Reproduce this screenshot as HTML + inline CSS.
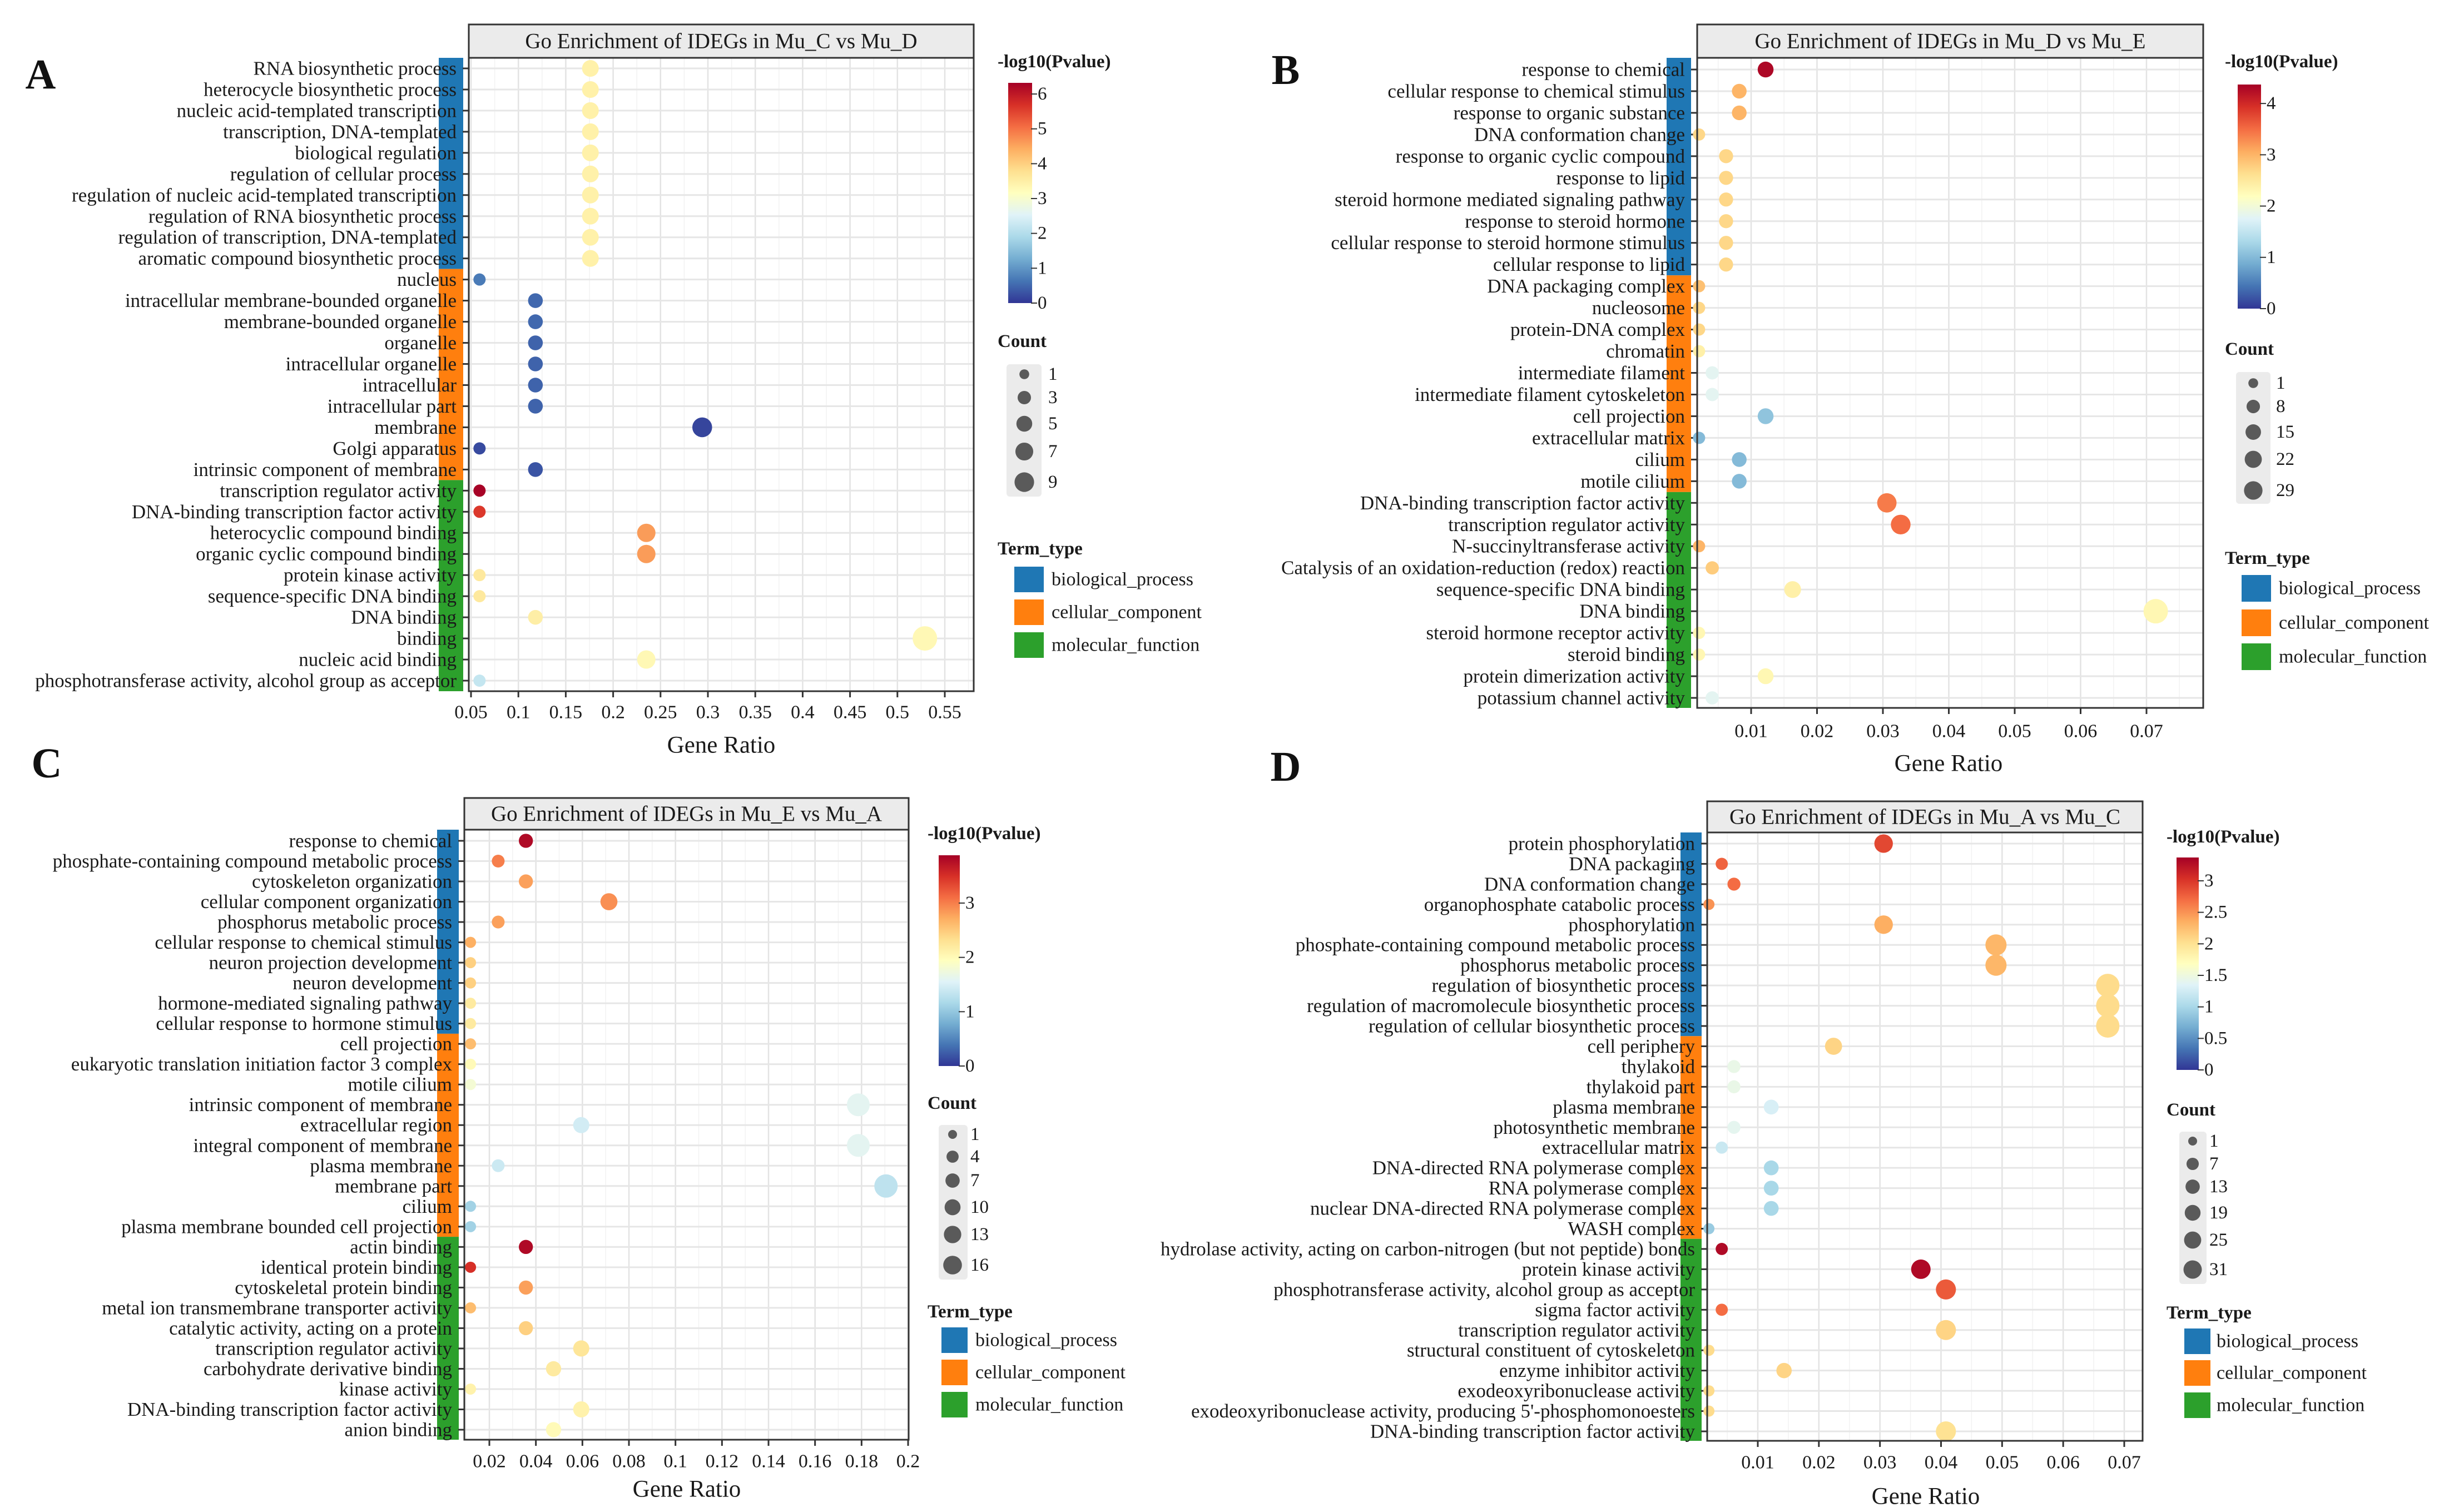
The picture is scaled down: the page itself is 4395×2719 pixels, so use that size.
<!DOCTYPE html>
<html><head><meta charset="utf-8"><style>
html,body{margin:0;padding:0;background:#fff;}
svg{display:block;font-family:"Liberation Serif","Times New Roman",serif;}
</style></head><body>
<svg id="fig" xmlns="http://www.w3.org/2000/svg" width="4395" height="2719" viewBox="0 0 4395 2719" font-family="Liberation Serif, serif">
<defs>
<linearGradient id="rdylbu" x1="0" y1="1" x2="0" y2="0">
<stop offset="0" stop-color="#313695"/><stop offset="0.1" stop-color="#4575b4"/><stop offset="0.2" stop-color="#74add1"/><stop offset="0.3" stop-color="#abd9e9"/><stop offset="0.4" stop-color="#e0f3f8"/><stop offset="0.5" stop-color="#ffffbf"/><stop offset="0.6" stop-color="#fee090"/><stop offset="0.7" stop-color="#fdae61"/><stop offset="0.8" stop-color="#f46d43"/><stop offset="0.9" stop-color="#d73027"/><stop offset="1" stop-color="#a50026"/>
</linearGradient>
<clipPath id="clipA"><rect x="0" y="0" width="2165" height="2719"/></clipPath>
</defs>
</svg>
<script>
// ---------- Panel A data ----------
const termsA = ["RNA biosynthetic process","heterocycle biosynthetic process","nucleic acid-templated transcription","transcription, DNA-templated","biological regulation","regulation of cellular process","regulation of nucleic acid-templated transcription","regulation of RNA biosynthetic process","regulation of transcription, DNA-templated","aromatic compound biosynthetic process","nucleus","intracellular membrane-bounded organelle","membrane-bounded organelle","organelle","intracellular organelle","intracellular","intracellular part","membrane","Golgi apparatus","intrinsic component of membrane","transcription regulator activity","DNA-binding transcription factor activity","heterocyclic compound binding","organic cyclic compound binding","protein kinase activity","sequence-specific DNA binding","DNA binding","binding","nucleic acid binding","phosphotransferase activity, alcohol group as acceptor"];
const ratioA = [0.176,0.176,0.176,0.176,0.176,0.176,0.176,0.176,0.176,0.176,0.059,0.118,0.118,0.118,0.118,0.118,0.118,0.294,0.059,0.118,0.059,0.059,0.235,0.235,0.059,0.059,0.118,0.529,0.235,0.059];
const countA = [3,3,3,3,3,3,3,3,3,3,1,2,2,2,2,2,2,5,1,2,1,1,4,4,1,1,2,9,4,1];
const pvalA = [3.45,3.45,3.45,3.45,3.45,3.45,3.45,3.45,3.45,3.45,0.7,0.5,0.5,0.45,0.45,0.45,0.45,0.15,0.2,0.3,6.3,5.6,4.6,4.6,3.6,3.6,3.5,3.3,3.3,2.2];
const typeA = [10,10,10];
const xTicksA = [0.05,0.1,0.15,0.2,0.25,0.3,0.35,0.4,0.45,0.5,0.55];
const xTickLabelsA = ["0.05","0.1","0.15","0.2","0.25","0.3","0.35","0.4","0.45","0.5","0.55"];
const cbTicksA = [0,1,2,3,4,5,6];
const sizeLegendA = [1,3,5,7,9];

// ---------- Panel B data ----------
const termsB = ["response to chemical","cellular response to chemical stimulus","response to organic substance","DNA conformation change","response to organic cyclic compound","response to lipid","steroid hormone mediated signaling pathway","response to steroid hormone","cellular response to steroid hormone stimulus","cellular response to lipid","DNA packaging complex","nucleosome","protein-DNA complex","chromatin","intermediate filament","intermediate filament cytoskeleton","cell projection","extracellular matrix","cilium","motile cilium","DNA-binding transcription factor activity","transcription regulator activity","N-succinyltransferase activity","Catalysis of an oxidation-reduction (redox) reaction","sequence-specific DNA binding","DNA binding","steroid hormone receptor activity","steroid binding","protein dimerization activity","potassium channel activity"];
const ratioB = [0.0122,0.0082,0.0082,0.0021,0.0062,0.0062,0.0062,0.0062,0.0062,0.0062,0.0021,0.0021,0.0021,0.0021,0.0041,0.0041,0.0122,0.0021,0.0082,0.0082,0.0306,0.0327,0.0021,0.0041,0.0163,0.0714,0.0021,0.0021,0.0122,0.0041];
const countB = [6,4,4,1,3,3,3,3,3,3,1,1,1,1,2,2,6,1,4,4,15,16,1,2,8,35,1,1,6,2];
const pvalB = [4.3,3.0,3.0,2.7,2.7,2.7,2.7,2.7,2.7,2.7,2.9,2.7,2.7,2.4,1.8,1.8,1.1,1.0,1.0,1.0,3.4,3.5,3.0,2.8,2.4,2.3,2.3,2.3,2.3,1.8];
const typeB = [10,10,10];
const xTicksB = [0.01,0.02,0.03,0.04,0.05,0.06,0.07];
const xTickLabelsB = ["0.01","0.02","0.03","0.04","0.05","0.06","0.07"];
const cbTicksB = [0,1,2,3,4];
const sizeLegendB = [1,8,15,22,29];

// ---------- Panel C data ----------
const termsC = ["response to chemical","phosphate-containing compound metabolic process","cytoskeleton organization","cellular component organization","phosphorus metabolic process","cellular response to chemical stimulus","neuron projection development","neuron development","hormone-mediated signaling pathway","cellular response to hormone stimulus","cell projection","eukaryotic translation initiation factor 3 complex","motile cilium","intrinsic component of membrane","extracellular region","integral component of membrane","plasma membrane","membrane part","cilium","plasma membrane bounded cell projection","actin binding","identical protein binding","cytoskeletal protein binding","metal ion transmembrane transporter activity","catalytic activity, acting on a protein","transcription regulator activity","carbohydrate derivative binding","kinase activity","DNA-binding transcription factor activity","anion binding"];
const ratioC = [0.0357,0.0238,0.0357,0.0714,0.0238,0.0119,0.0119,0.0119,0.0119,0.0119,0.0119,0.0119,0.0119,0.1786,0.0595,0.1786,0.0238,0.1905,0.0119,0.0119,0.0357,0.0119,0.0357,0.0119,0.0357,0.0595,0.0476,0.0119,0.0595,0.0476];
const countC = [3,2,3,6,2,1,1,1,1,1,1,1,1,15,5,15,2,16,1,1,3,1,3,1,3,5,4,1,5,4];
const pvalC = [3.8,3.0,2.8,2.9,2.8,2.7,2.45,2.45,2.2,2.2,2.6,2.0,1.8,1.6,1.45,1.6,1.4,1.3,1.1,1.1,3.8,3.5,2.8,2.6,2.45,2.25,2.2,2.1,2.1,2.0];
const typeC = [10,10,10];
const xTicksC = [0.02,0.04,0.06,0.08,0.1,0.12,0.14,0.16,0.18,0.2];
const xTickLabelsC = ["0.02","0.04","0.06","0.08","0.1","0.12","0.14","0.16","0.18","0.2"];
const cbTicksC = [0,1,2,3];
const sizeLegendC = [1,4,7,10,13,16];

// ---------- Panel D data ----------
const termsD = ["protein phosphorylation","DNA packaging","DNA conformation change","organophosphate catabolic process","phosphorylation","phosphate-containing compound metabolic process","phosphorus metabolic process","regulation of biosynthetic process","regulation of macromolecule biosynthetic process","regulation of cellular biosynthetic process","cell periphery","thylakoid","thylakoid part","plasma membrane","photosynthetic membrane","extracellular matrix","DNA-directed RNA polymerase complex","RNA polymerase complex","nuclear DNA-directed RNA polymerase complex","WASH complex","hydrolase activity, acting on carbon-nitrogen (but not peptide) bonds","protein kinase activity","phosphotransferase activity, alcohol group as acceptor","sigma factor activity","transcription regulator activity","structural constituent of cytoskeleton","enzyme inhibitor activity","exodeoxyribonuclease activity","exodeoxyribonuclease activity, producing 5'-phosphomonoesters","DNA-binding transcription factor activity"];
const ratioD = [0.0306,0.0041,0.0061,0.0020,0.0306,0.0490,0.0490,0.0673,0.0673,0.0673,0.0224,0.0061,0.0061,0.0122,0.0061,0.0041,0.0122,0.0122,0.0122,0.0020,0.0041,0.0367,0.0408,0.0041,0.0408,0.0020,0.0143,0.0020,0.0020,0.0408];
const countD = [15,2,3,1,15,24,24,33,33,33,11,3,3,6,3,2,6,6,6,1,2,18,20,2,20,1,7,1,1,20];
const pvalD = [2.9,2.75,2.7,2.5,2.35,2.3,2.3,2.05,2.05,2.05,2.1,1.45,1.45,1.3,1.4,1.2,1.0,1.0,1.0,0.9,3.3,3.3,2.8,2.7,2.1,2.05,2.1,2.05,2.05,2.0];
const typeD = [10,10,10];
const xTicksD = [0.01,0.02,0.03,0.04,0.05,0.06,0.07];
const xTickLabelsD = ["0.01","0.02","0.03","0.04","0.05","0.06","0.07"];
const cbTicksD = [0,0.5,1,1.5,2,2.5,3];
const sizeLegendD = [1,7,13,19,25,31];

const typeNames = ["biological_process","cellular_component","molecular_function"];
const typeColors = ["#1f77b4","#ff7f0e","#2ca02c"];

const NS = "http://www.w3.org/2000/svg";
const svg = document.getElementById("fig");
function mk(tag, attrs, parent, text){
  const e = document.createElementNS(NS, tag);
  for (const k in attrs) e.setAttribute(k, attrs[k]);
  if (text !== undefined) e.textContent = text;
  (parent || svg).appendChild(e);
  return e;
}
const stops = ["#313695","#4575b4","#74add1","#abd9e9","#e0f3f8","#ffffbf","#fee090","#fdae61","#f46d43","#d73027","#a50026"];
function hex(h){return [parseInt(h.substr(1,2),16),parseInt(h.substr(3,2),16),parseInt(h.substr(5,2),16)];}
function colorAt(t){
  t = Math.max(0, Math.min(1, t));
  const f = t*10, i = Math.min(9, Math.floor(f)), r = f - i;
  const a = hex(stops[i]), b = hex(stops[i+1]);
  return "rgb(" + a.map((v,k)=>Math.round(v+(b[k]-v)*r)).join(",") + ")";
}
const FONT = "Liberation Serif, Times New Roman, serif";

function panel(P){
  const g = mk("g", {"font-family":FONT}, svg);
  
  
  if (P.clip) g.setAttribute('clip-path', P.clip);
  const n = P.terms.length;
  const step = (P.rowN - P.row0)/(n-1);
  const yOf = i => P.row0 + i*step;
  const xOf = v => P.x1px + (v - P.x1val) * (P.x2px - P.x1px)/(P.x2val - P.x1val);
  const rOf = c => P.rmin + (P.rmax - P.rmin) * (Math.sqrt(c)-1)/(Math.sqrt(P.cmax)-1);
  const hdr = mk("rect", {x:P.left, y:P.hTop, width:P.right-P.left, height:P.top-P.hTop, fill:"#ebebeb", stroke:"#333", "stroke-width":3}, g);
  
  
  const ht = mk("text", {x:(P.left+P.right)/2, y:(P.hTop+P.top)/2, "text-anchor":"middle", "dominant-baseline":"central", "font-size":39, fill:"#1a1a1a"}, g, P.title);
  
  
  mk("rect", {x:P.left, y:P.top, width:P.right-P.left, height:P.bottom-P.top, fill:"#fff"}, g);
  for (let k=0;k<P.xTicks.length;k++){
    const t = P.xTicks[k];
    const x = xOf(t);
    const vl = mk("line", {x1:x, x2:x, y1:P.top, y2:P.bottom, stroke:"#e3e3e3", "stroke-width":2.5}, g);
    
    
    const dt = (P.xTicks[1]-P.xTicks[0])/2;
    [t - dt, t + dt].forEach(m=>{
      const xm = xOf(m);
      if (xm > P.left+2 && xm < P.right-2 && (k===0 || m > t))
        mk("line", {x1:xm, x2:xm, y1:P.top, y2:P.bottom, stroke:"#f2f2f2", "stroke-width":1.5}, g);
    });
  }
  for (let i=0;i<n;i++){
    const y = yOf(i);
    const hl = mk("line", {x1:P.left, x2:P.right, y1:y, y2:y, stroke:"#e6e6e6", "stroke-width":3}, g);
    
    
  }
  let start = 0;
  for (let k=0;k<3;k++){
    const cnt = P.types[k];
    const y1 = start===0 ? P.top : (yOf(start-1)+yOf(start))/2;
    const y2 = start+cnt>=n ? P.bottom : (yOf(start+cnt-1)+yOf(start+cnt))/2;
    const sr = mk("rect", {x:P.sx1, y:y1, width:P.sx2-P.sx1, height:y2-y1, fill:typeColors[k]}, g);
    
    
    start += cnt;
  }
  for (let i=0;i<n;i++){
    const y = yOf(i);
    mk("line", {x1:P.left-11, x2:P.left, y1:y, y2:y, stroke:"#333", "stroke-width":3}, g);
    const lt = mk("text", {x:P.left-22, y:y, "text-anchor":"end", "dominant-baseline":"central", "font-size":35, fill:"#1a1a1a"}, g, P.terms[i]);
    
    
  }
  for (let i=0;i<n;i++){
    const c = mk("circle", {cx:xOf(P.ratio[i]), cy:yOf(i), r:rOf(P.count[i]), fill:colorAt(P.pval[i]/P.pmax)}, g);
    
    
  }
  mk("rect", {x:P.left, y:P.top, width:P.right-P.left, height:P.bottom-P.top, fill:"none", stroke:"#333", "stroke-width":3}, g);
  for (let k=0;k<P.xTicks.length;k++){
    const x = xOf(P.xTicks[k]);
    mk("line", {x1:x, x2:x, y1:P.bottom, y2:P.bottom+11, stroke:"#333", "stroke-width":3}, g);
    const xt = mk("text", {x:x, y:P.tickY, "text-anchor":"middle", "dominant-baseline":"central", "font-size":34, fill:"#1a1a1a"}, g, P.xLabels[k]);
    
    
  }
  const at = mk("text", {x:P.axX, y:P.axY, "text-anchor":"middle", "dominant-baseline":"central", "font-size":43, fill:"#1a1a1a"}, g, "Gene Ratio");
  
  

  const L = P.leg;
  const lg = mk("g", {}, g);
  
  
  const ct = mk("text", {x:L.x, y:L.titleY, "dominant-baseline":"central", "font-size":33, "font-weight":"bold", fill:"#1a1a1a"}, lg, "-log10(Pvalue)");
  
  
  const cb = mk("rect", {x:L.cbx, y:L.cbTop, width:L.cbw, height:L.cbBot-L.cbTop, fill:"url(#rdylbu)"}, lg);
  
  
  P.cbTicks.forEach(v=>{
    const y = L.cbBot - v/P.pmax*(L.cbBot-L.cbTop);
    mk("line", {x1:L.cbx+L.cbw-2, x2:L.cbx+L.cbw+9, y1:y, y2:y, stroke:"#333", "stroke-width":2}, lg);
    const tl = mk("text", {x:L.cbx+L.cbw+10, y:y, "dominant-baseline":"central", "font-size":33, fill:"#1a1a1a"}, lg, String(v));
    
    
  });
  const st = mk("text", {x:L.x, y:L.countTitleY, "dominant-baseline":"central", "font-size":33, "font-weight":"bold", fill:"#1a1a1a"}, lg, "Count");
  
  
  mk("rect", {x:L.bgx1, y:L.bgy1, width:L.bgx2-L.bgx1, height:L.bgy2-L.bgy1, fill:"#ebebeb", rx:6}, lg);
  P.sizeLegend.forEach((c,k)=>{
    const cy = L.sizeYs[k];
    const sc = mk("circle", {cx:L.scx, cy:cy, r:rOf(c)*0.8, fill:"#5a5a5a"}, lg);
    
    
    mk("text", {x:L.slx, y:cy, "dominant-baseline":"central", "font-size":33, fill:"#1a1a1a"}, lg, String(c));
  });
  const tt = mk("text", {x:L.x, y:L.termTitleY, "dominant-baseline":"central", "font-size":33, "font-weight":"bold", fill:"#1a1a1a"}, lg, "Term_type");
  
  
  for (let k=0;k<3;k++){
    const y = L.boxYs[k];
    const b = mk("rect", {x:L.bx, y:y, width:L.bw, height:L.bh, fill:typeColors[k]}, lg);
    
    
    mk("text", {x:L.blx, y:y+L.bh/2, "dominant-baseline":"central", "font-size":34, fill:"#1a1a1a"}, lg, typeNames[k]);
  }
}

panel({name:"panel-a", title:"Go Enrichment of IDEGs in Mu_C vs Mu_D", clip:"url(#clipA)",
  terms:termsA, ratio:ratioA, count:countA, pval:pvalA, types:typeA, xTicks:xTicksA, xLabels:xTickLabelsA, cbTicks:cbTicksA, sizeLegend:sizeLegendA,
  left:843, right:1751, hTop:44, top:104, bottom:1243, row0:123, rowN:1224, sx1:789, sx2:833,
  x1val:0.05, x1px:847, x2val:0.55, x2px:1699, tickY:1281, axX:1297, axY:1340,
  pmax:6.32, rmin:11, rmax:22, cmax:9,
  leg:{x:1794, titleY:111, cbx:1813, cbw:43, cbTop:149, cbBot:545, countTitleY:614, bgx1:1810, bgx2:1873, bgy1:655, bgy2:893, scx:1842, sizeYs:[673,715,762,812,867], slx:1885, termTitleY:987, bx:1824, bw:53, bh:46, boxYs:[1019,1078,1137], blx:1891}});

panel({name:"panel-b", title:"Go Enrichment of IDEGs in Mu_D vs Mu_E",
  terms:termsB, ratio:ratioB, count:countB, pval:pvalB, types:typeB, xTicks:xTicksB, xLabels:xTickLabelsB, cbTicks:cbTicksB, sizeLegend:sizeLegendB,
  left:3052, right:3962, hTop:44, top:104, bottom:1273, row0:125, rowN:1255, sx1:2997, sx2:3041,
  x1val:0.01, x1px:3149, x2val:0.07, x2px:3860, tickY:1315, axX:3504, axY:1373,
  pmax:4.37, rmin:11, rmax:22, cmax:35,
  leg:{x:4001, titleY:111, cbx:4024, cbw:42, cbTop:152, cbBot:555, countTitleY:628, bgx1:4021, bgx2:4083, bgy1:669, bgy2:906, scx:4052, sizeYs:[689,731,777,826,882], slx:4093, termTitleY:1004, bx:4031, bw:53, bh:48, boxYs:[1034,1096,1157], blx:4098}});

panel({name:"panel-c", title:"Go Enrichment of IDEGs in Mu_E vs Mu_A",
  terms:termsC, ratio:ratioC, count:countC, pval:pvalC, types:typeC, xTicks:xTicksC, xLabels:xTickLabelsC, cbTicks:cbTicksC, sizeLegend:sizeLegendC,
  left:835, right:1634, hTop:1435, top:1492, bottom:2589, row0:1512, rowN:2571, sx1:786, sx2:825,
  x1val:0.02, x1px:880, x2val:0.2, x2px:1633, tickY:2628, axX:1235, axY:2678,
  pmax:3.88, rmin:10, rmax:21, cmax:16,
  leg:{x:1668, titleY:1499, cbx:1688, cbw:38, cbTop:1538, cbBot:1917, countTitleY:1984, bgx1:1688, bgx2:1740, bgy1:2023, bgy2:2301, scx:1713, sizeYs:[2040,2080,2123,2171,2220,2275], slx:1745, termTitleY:2359, bx:1693, bw:47, bh:46, boxYs:[2387,2445,2503], blx:1754}});

panel({name:"panel-d", title:"Go Enrichment of IDEGs in Mu_A vs Mu_C",
  terms:termsD, ratio:ratioD, count:countD, pval:pvalD, types:typeD, xTicks:xTicksD, xLabels:xTickLabelsD, cbTicks:cbTicksD, sizeLegend:sizeLegendD,
  left:3070, right:3853, hTop:1441, top:1497, bottom:2591, row0:1517, rowN:2574, sx1:3022, sx2:3060,
  x1val:0.01, x1px:3161, x2val:0.07, x2px:3820, tickY:2630, axX:3463, axY:2691,
  pmax:3.37, rmin:10, rmax:21, cmax:33,
  leg:{x:3896, titleY:1505, cbx:3914, cbw:40, cbTop:1542, cbBot:1924, countTitleY:1996, bgx1:3919, bgx2:3968, bgy1:2035, bgy2:2309, scx:3943, sizeYs:[2052,2093,2134,2181,2230,2283], slx:3973, termTitleY:2361, bx:3928, bw:47, bh:46, boxYs:[2389,2446,2504], blx:3986}});

[["A",73,134],["B",2312,126],["C",84,1373],["D",2312,1379]].forEach(a=>{
  const t = mk("text", {x:a[1], y:a[2], "text-anchor":"middle", "dominant-baseline":"central", "font-size":76, "font-weight":"bold", fill:"#111", "font-family":FONT}, svg, a[0]);
  
  
});
</script>
</body></html>
